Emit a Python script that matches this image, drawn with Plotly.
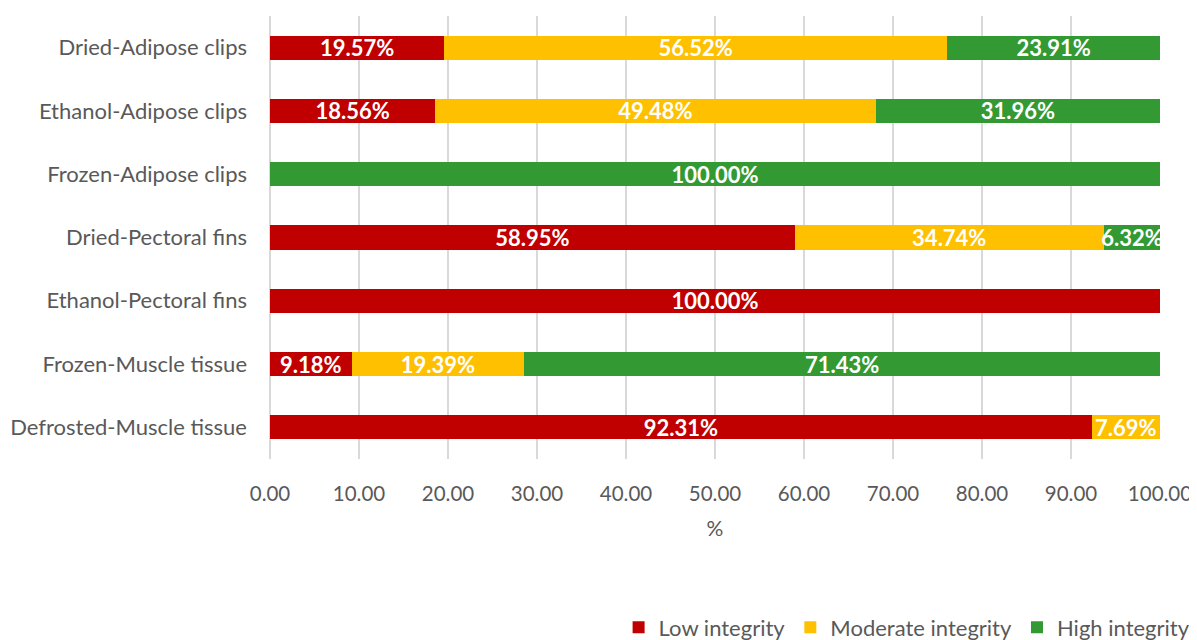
import plotly.graph_objects as go

categories = ["Dried-Adipose clips", "Ethanol-Adipose clips", "Frozen-Adipose clips",
              "Dried-Pectoral fins", "Ethanol-Pectoral fins", "Frozen-Muscle tissue",
              "Defrosted-Muscle tissue"]
low = [19.57, 18.56, 0.0, 58.95, 100.0, 9.18, 92.31]
moderate = [56.52, 49.48, 0.0, 34.74, 0.0, 19.39, 7.69]
high = [23.91, 31.96, 100.0, 6.32, 0.0, 71.43, 0.0]
series_names = ["Low integrity", "Moderate integrity", "High integrity"]
colors = ["#C00000", "#FFC000", "#339933"]
x_ticks = [0, 10, 20, 30, 40, 50, 60, 70, 80, 90, 100]

FONT = "Lato"
fig = go.Figure()
for name, vals, col in zip(series_names, [low, moderate, high], colors):
    fig.add_trace(go.Bar(
        y=categories, x=vals, name=name, orientation="h",
        marker=dict(color=col, line=dict(width=0)),
        text=[f"{v:.2f}%" if v > 0 else "" for v in vals],
        textposition="inside", insidetextanchor="middle", textangle=0,
        constraintext="none",
        textfont=dict(family=FONT, size=22, color="white", weight="bold"),
        hoverinfo="skip",
    ))

fig.update_layout(
    barmode="stack", bargap=0.62,
    width=1189, height=632,
    margin=dict(l=262, r=37, t=8, b=181, autoexpand=False),
    paper_bgcolor="rgba(0,0,0,0)", plot_bgcolor="white",
    font=dict(family=FONT, size=21, color="#595959"),
    legend=dict(orientation="h", x=1.04, xanchor="right", y=-0.38, yanchor="middle",
                font=dict(size=22, color="#595959"), traceorder="normal",
                itemwidth=30),
    xaxis=dict(range=[0, 100], tickvals=x_ticks, ticktext=[f"{v:.2f}" for v in x_ticks],
               showgrid=True, gridcolor="#D9D9D9", gridwidth=2,
               zeroline=True, zerolinecolor="#D9D9D9", zerolinewidth=2,
               ticks="", ticklabelstandoff=20, automargin=False,
               tickfont=dict(size=20.5),
               title=dict(text="%", standoff=17, font=dict(size=21, color="#595959"))),
    yaxis=dict(autorange="reversed", showgrid=False, zeroline=False, ticks="",
               ticklabelstandoff=22, automargin=False, tickfont=dict(size=22)),
)

fig.write_html("out.html")
